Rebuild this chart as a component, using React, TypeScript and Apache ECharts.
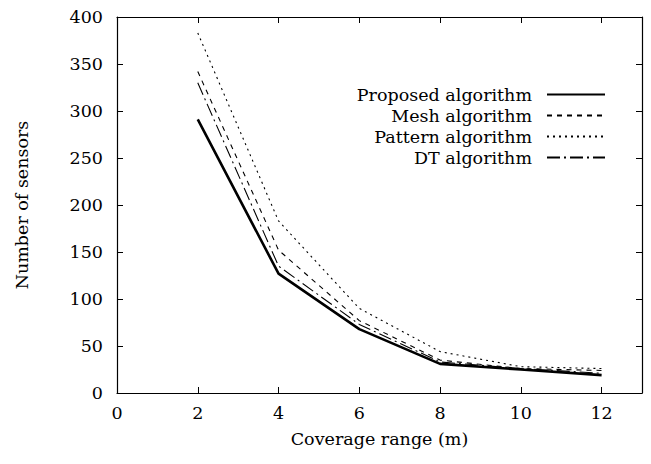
import React, { useEffect, useRef } from "react";
import * as echarts from "echarts";

const coverage = [2, 4, 6, 8, 10, 12];
const proposed = [291, 127, 68, 31, 25, 19];
const mesh = [342, 152, 77, 35, 26, 24];
const pattern = [383, 183, 90, 44, 28, 26];
const dt = [330, 135, 73, 33, 26, 21];
const seriesNames = ["Proposed algorithm", "Mesh algorithm", "Pattern algorithm", "DT algorithm"];

const FONT = "DejaVu Serif";
const FS = 17.5;

export default function App() {
  const ref = useRef<HTMLDivElement>(null);
  useEffect(() => {
    const chart = echarts.init(ref.current!, undefined, { renderer: "svg" });
    const mk = (arr: number[]) => coverage.map((x, i) => [x, arr[i]]);
    const lineStyles: any[] = [
      { width: 2.6, type: "solid" },
      { width: 1.1, type: [5, 5] },
      { width: 1.1, type: [2, 4] },
      { width: 1.1, type: [13, 4, 2, 4] },
    ];
    const datas = [proposed, mesh, pattern, dt];
    const axisCommon = {
      axisLine: { show: true, onZero: false, lineStyle: { color: "#000", width: 1.2 } },
      axisTick: { show: true, inside: true, length: 6, lineStyle: { color: "#000", width: 1 } },
      splitLine: { show: false },
    };
    chart.setOption({
      animation: false,
      backgroundColor: "#fff",
      textStyle: { fontFamily: FONT },
      grid: { left: 117, right: 9, top: 17, bottom: 71 },
      legend: {
        orient: "vertical",
        align: "right",
        right: 40,
        top: 79,
        itemWidth: 58,
        itemHeight: 14,
        itemGap: 0,
        itemStyle: { opacity: 0, borderWidth: 0 },
        textStyle: { fontFamily: FONT, fontSize: FS, lineHeight: 21, color: "#000", padding: [0, 10, 0, 0] },
        data: seriesNames,
      },
      xAxis: [
        {
          ...axisCommon,
          type: "value",
          min: 0,
          max: 13,
          interval: 2,
          position: "bottom",
          name: "Coverage range (m)",
          nameLocation: "middle",
          nameGap: 37,
          nameTextStyle: { fontFamily: FONT, fontSize: FS, color: "#000" },
          axisLabel: {
            fontFamily: FONT,
            fontSize: FS,
            color: "#000",
            margin: 11,
            formatter: (v: number) => (v % 2 === 0 ? String(v) : ""),
          },
        },
        {
          ...axisCommon,
          type: "value",
          min: 0,
          max: 13,
          interval: 2,
          position: "top",
          axisLabel: { show: false },
        },
      ],
      yAxis: [
        {
          ...axisCommon,
          type: "value",
          min: 0,
          max: 400,
          interval: 50,
          position: "left",
          name: "Number of sensors",
          nameLocation: "middle",
          nameGap: 86,
          nameTextStyle: { fontFamily: FONT, fontSize: FS, color: "#000" },
          axisLabel: { fontFamily: FONT, fontSize: FS, color: "#000", margin: 14 },
        },
        {
          ...axisCommon,
          type: "value",
          min: 0,
          max: 400,
          interval: 50,
          position: "right",
          axisLabel: { show: false },
        },
      ],
      series: seriesNames.map((n, i) => ({
        name: n,
        type: "line",
        data: mk(datas[i]),
        symbol: "none",
        lineStyle: { color: "#000", ...lineStyles[i] },
        itemStyle: { color: "#000" },
        z: 10 - i,
      })),
    });
    return () => chart.dispose();
  }, []);
  return <div ref={ref} style={{ width: 651, height: 464, position: "absolute", left: 0, top: 0 }} />;
}
